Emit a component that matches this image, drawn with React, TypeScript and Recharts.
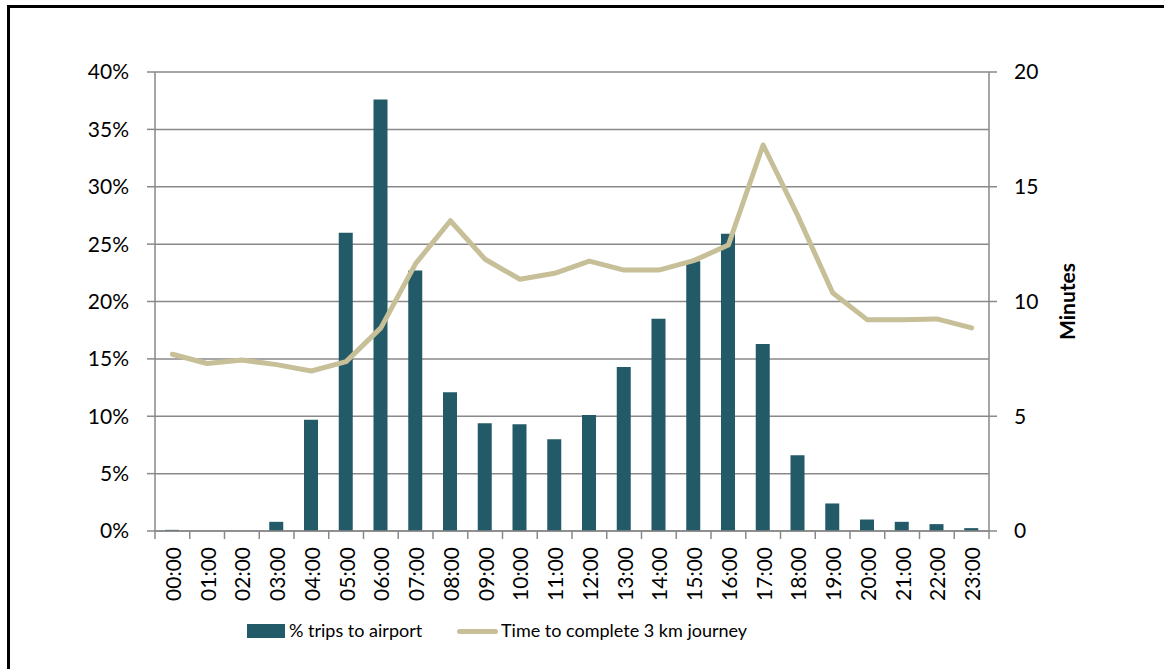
import { ComposedChart, Bar, Line, XAxis, YAxis, CartesianGrid, Legend } from "recharts"

const hours = [
  "00:00", "01:00", "02:00", "03:00", "04:00", "05:00", "06:00", "07:00",
  "08:00", "09:00", "10:00", "11:00", "12:00", "13:00", "14:00", "15:00",
  "16:00", "17:00", "18:00", "19:00", "20:00", "21:00", "22:00", "23:00",
]

// share of trips to the airport, in percent
const tripShare = [
  0.1, 0, 0, 0.8, 9.7, 26.0, 37.6, 22.7, 12.1, 9.4, 9.3, 8.0,
  10.1, 14.3, 18.5, 23.5, 25.9, 16.3, 6.6, 2.4, 1.0, 0.8, 0.6, 0.25,
]

// minutes to complete a 3 km journey
const journeyMinutes = [
  7.7, 7.3, 7.45, 7.25, 6.97, 7.38, 8.85, 11.65, 13.52, 11.84, 10.97, 11.23,
  11.76, 11.37, 11.37, 11.78, 12.46, 16.82, 13.73, 10.38, 9.2, 9.2, 9.24, 8.85,
]

const pctTicks = [0, 5, 10, 15, 20, 25, 30, 35, 40]
const minuteTicks = [0, 5, 10, 15, 20]

const data = hours.map((hour, i) => ({
  hour,
  share: tripShare[i],
  minutes: journeyMinutes[i],
}))

const W = 1164
const H = 669
const LEFT_AXIS_W = 155
const RIGHT_AXIS_W = 175
const PLOT_LEFT = LEFT_AXIS_W
const PLOT_RIGHT = W - RIGHT_AXIS_W
const BAND = (PLOT_RIGHT - PLOT_LEFT) / hours.length

const FONT = "Lato, sans-serif"
const GRID = "#898989"
const BAR = "#235a68"
const LINE = "#c6bf98"

// rotated hour label plus the separator tick on the category boundary
function HourTick(props: any) {
  const { x, y, payload, index } = props
  const axisY = y - 8
  const left = x - BAND / 2
  return (
    <g>
      <line x1={left} x2={left} y1={axisY} y2={axisY + 8} stroke={GRID} strokeWidth={1.5} />
      {index === hours.length - 1 && (
        <line x1={x + BAND / 2} x2={x + BAND / 2} y1={axisY} y2={axisY + 8} stroke={GRID} strokeWidth={1.5} />
      )}
      <text
        x={x}
        y={axisY + 16}
        transform={`rotate(-90, ${x}, ${axisY + 16})`}
        textAnchor="end"
        dominantBaseline="central"
        fontFamily={FONT}
        fontSize={21}
        fill="#000"
      >
        {payload.value}
      </text>
    </g>
  )
}

function LegendContent() {
  return (
    <div
      style={{
        position: "relative",
        height: 44,
        fontFamily: FONT,
        fontSize: 18,
        color: "#000",
      }}
    >
      <div style={{ position: "absolute", left: 247, top: 15, width: 38, height: 14, background: BAR }} />
      <span style={{ position: "absolute", left: 289, top: 9, lineHeight: "24px" }}>% trips to airport</span>
      <div style={{ position: "absolute", left: 457, top: 20, width: 41, height: 5, borderRadius: 3, background: LINE }} />
      <span style={{ position: "absolute", left: 501, top: 9, lineHeight: "24px" }}>Time to complete 3 km journey</span>
    </div>
  )
}

function MinutesLabel(props: any) {
  const { viewBox } = props
  const cx = viewBox.x + 77
  const cy = viewBox.y + viewBox.height / 2
  return (
    <text
      x={cx}
      y={cy}
      transform={`rotate(-90, ${cx}, ${cy})`}
      textAnchor="middle"
      dominantBaseline="central"
      fontFamily={FONT}
      fontWeight="bold"
      fontSize={21}
      fill="#000"
    >
      Minutes
    </text>
  )
}

export default function App() {
  return (
    <div style={{ position: "absolute", left: 0, top: 0, width: W, height: H, background: "#fff", overflow: "hidden" }}>
      <div
        style={{
          position: "absolute",
          left: 7,
          top: 5,
          width: W,
          height: H,
          borderLeft: "3px solid #000",
          borderTop: "3px solid #000",
        }}
      />
      <div style={{ position: "absolute", left: 0, top: 0 }}>
        <ComposedChart
          width={W}
          height={H}
          data={data}
          margin={{ top: 72, right: 0, bottom: 16, left: 0 }}
          barSize={14}
        >
          <CartesianGrid yAxisId="pct" vertical={false} stroke={GRID} strokeWidth={1.5} />
          <XAxis
            dataKey="hour"
            height={78}
            interval={0}
            tick={<HourTick />}
            tickLine={false}
            tickSize={8}
            tickMargin={0}
            axisLine={{ stroke: GRID, strokeWidth: 1.5 }}
          />
          <YAxis
            yAxisId="pct"
            width={LEFT_AXIS_W}
            domain={[0, 40]}
            ticks={pctTicks}
            tickFormatter={(v: number) => `${v}%`}
            tick={{ fill: "#000", fontFamily: FONT, fontSize: 21 }}
            tickSize={8}
            tickMargin={18}
            tickLine={{ stroke: GRID, strokeWidth: 1.5 }}
            axisLine={{ stroke: GRID, strokeWidth: 1.5 }}
          />
          <YAxis
            yAxisId="min"
            orientation="right"
            width={RIGHT_AXIS_W}
            domain={[0, 20]}
            ticks={minuteTicks}
            tick={{ fill: "#000", fontFamily: FONT, fontSize: 21, textAnchor: "start" }}
            tickSize={8}
            tickMargin={17}
            tickLine={{ stroke: GRID, strokeWidth: 1.5 }}
            axisLine={{ stroke: GRID, strokeWidth: 1.5 }}
            label={<MinutesLabel />}
          />
          <Legend verticalAlign="bottom" content={<LegendContent />} wrapperStyle={{ left: 0, width: W }} />
          <Bar yAxisId="pct" dataKey="share" name="% trips to airport" fill={BAR} isAnimationActive={false} />
          <Line
            yAxisId="min"
            dataKey="minutes"
            name="Time to complete 3 km journey"
            type="linear"
            stroke={LINE}
            strokeWidth={5}
            strokeLinejoin="round"
            strokeLinecap="round"
            dot={false}
            activeDot={false}
            isAnimationActive={false}
          />
        </ComposedChart>
      </div>
    </div>
  )
}
